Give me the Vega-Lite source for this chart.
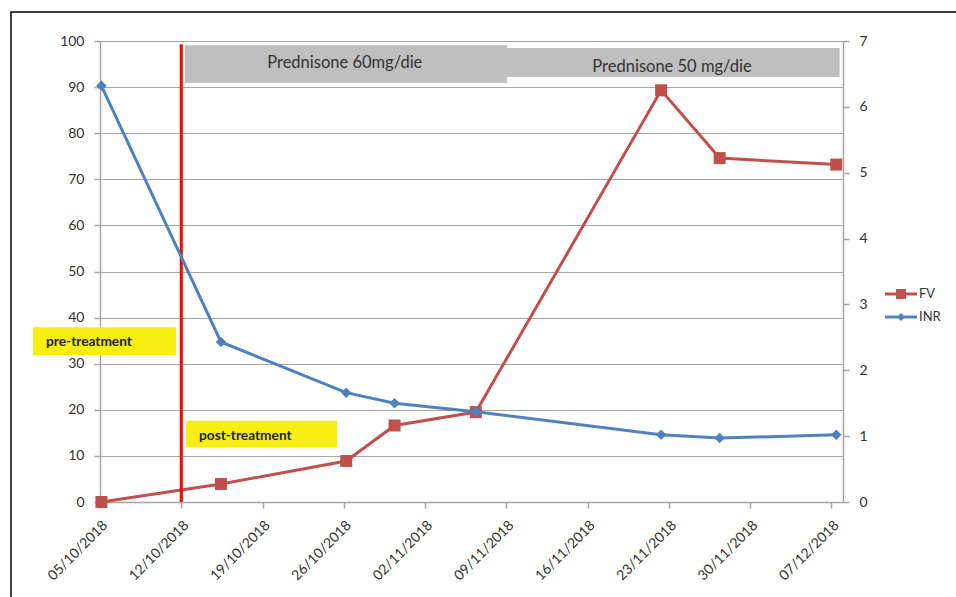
{
  "$schema": "https://vega.github.io/schema/vega-lite/v6.json",
  "width": 743,
  "height": 461,
  "autosize": {"type": "none"},
  "padding": {"left": 100, "top": 41, "right": 113, "bottom": 95},
  "background": "white",
  "config": {
    "view": {"stroke": null},
    "font": "Lato",
    "axis": {"labelFont": "Lato", "labelFontSize": 14, "labelColor": "#333333", "domainColor": "#A6A6A6", "tickColor": "#A6A6A6", "gridColor": "#A6A6A6", "domainWidth": 1.5, "tickWidth": 1.5}
  },
  "datasets": {
    "series": [
      {"date": "2018-10-05T03:00", "FV": 0, "INR": 6.32},
      {"date": "2018-10-15T10:00", "FV": 3.9, "INR": 2.43},
      {"date": "2018-10-26T05:00", "FV": 8.9, "INR": 1.66},
      {"date": "2018-10-30T09:00", "FV": 16.6, "INR": 1.5},
      {"date": "2018-11-06T09:00", "FV": 19.5, "INR": 1.37},
      {"date": "2018-11-22T08:00", "FV": 89.3, "INR": 1.02},
      {"date": "2018-11-27T09:00", "FV": 74.6, "INR": 0.97},
      {"date": "2018-12-07T10:00", "FV": 73.2, "INR": 1.02}
    ],
    "frame": [{"x": "2018-09-27T08:00", "x2": "2018-12-30T00:00", "y": 106.3, "y2": -30}],
    "grey": [
      {"x": "2018-11-08T17:00", "x2": "2018-12-07T17:00", "y": 98.5, "y2": 92.2},
      {"x": "2018-10-12T07:40", "x2": "2018-11-09T01:30", "y": 99.1, "y2": 90.9}
    ],
    "greyText": [
      {"x": "2018-10-26T02:00", "y": 95.2, "text": "Prednisone 60mg/die"},
      {"x": "2018-11-23T06:30", "y": 94.4, "text": "Prednisone 50 mg/die"}
    ],
    "yellow": [
      {"x": "2018-09-29T05:30", "x2": "2018-10-11T13:00", "y": 37.9, "y2": 31.9},
      {"x": "2018-10-12T10:00", "x2": "2018-10-25T10:00", "y": 17.6, "y2": 11.9}
    ],
    "yellowText": [
      {"x": "2018-09-30T08:30", "y": 34.7, "text": "pre-treatment"},
      {"x": "2018-10-13T12:40", "y": 14.3, "text": "post-treatment"}
    ],
    "start": [{"x": "2018-10-12T00:00", "y": 0, "y2": 99.3}],
    "legend": [{"s": "FV"}, {"s": "INR"}]
  },
  "layer": [
    {
      "layer": [
        {
          "data": {"name": "frame"},
          "mark": {"type": "rect", "filled": false, "stroke": "#000000", "strokeWidth": 1.5, "clip": false},
          "encoding": {
            "x": {
              "field": "x", "type": "temporal",
              "scale": {"domain": [{"year": 2018, "month": 10, "date": 5}, {"year": 2018, "month": 12, "date": 8}]},
              "axis": {
                "title": null,
                "values": [
                  {"year": 2018, "month": 10, "date": 5}, {"year": 2018, "month": 10, "date": 12},
                  {"year": 2018, "month": 10, "date": 19}, {"year": 2018, "month": 10, "date": 26},
                  {"year": 2018, "month": 11, "date": 2}, {"year": 2018, "month": 11, "date": 9},
                  {"year": 2018, "month": 11, "date": 16}, {"year": 2018, "month": 11, "date": 23},
                  {"year": 2018, "month": 11, "date": 30}, {"year": 2018, "month": 12, "date": 7}
                ],
                "format": "%d/%m/%Y", "labelAngle": -45, "tickSize": 6, "grid": false, "labelPadding": 10
              }
            },
            "x2": {"field": "x2"},
            "y": {
              "field": "y", "type": "quantitative",
              "scale": {"domain": [0, 100], "nice": false},
              "axis": {"title": null, "orient": "left", "values": [0, 10, 20, 30, 40, 50, 60, 70, 80, 90, 100], "grid": true, "gridWidth": 1.2, "tickSize": 6, "labelPadding": 10}
            },
            "y2": {"field": "y2"}
          }
        },
        {
          "data": {"name": "grey"},
          "mark": {"type": "rect", "color": "#BFBFBF"},
          "encoding": {
            "x": {"field": "x", "type": "temporal"},
            "x2": {"field": "x2"},
            "y": {"field": "y", "type": "quantitative"},
            "y2": {"field": "y2"}
          }
        },
        {
          "data": {"name": "greyText"},
          "mark": {"type": "text", "fontSize": 16.5, "color": "#333333", "align": "center", "baseline": "middle"},
          "encoding": {
            "x": {"field": "x", "type": "temporal"},
            "y": {"field": "y", "type": "quantitative"},
            "text": {"field": "text"}
          }
        },
        {
          "data": {"name": "yellow"},
          "mark": {"type": "rect", "color": "#F7EE10", "clip": false},
          "encoding": {
            "x": {"field": "x", "type": "temporal"},
            "x2": {"field": "x2"},
            "y": {"field": "y", "type": "quantitative"},
            "y2": {"field": "y2"}
          }
        },
        {
          "data": {"name": "yellowText"},
          "mark": {"type": "text", "fontSize": 13.7, "fontWeight": "bold", "color": "#222222", "align": "left", "baseline": "middle"},
          "encoding": {
            "x": {"field": "x", "type": "temporal"},
            "y": {"field": "y", "type": "quantitative"},
            "text": {"field": "text"}
          }
        },
        {
          "data": {"name": "series"},
          "mark": {"type": "line", "color": "#C0504D", "strokeWidth": 3},
          "encoding": {
            "x": {"field": "date", "type": "temporal"},
            "y": {"field": "FV", "type": "quantitative"}
          }
        },
        {
          "data": {"name": "series"},
          "mark": {"type": "point", "shape": "square", "filled": true, "size": 144, "color": "#C0504D", "opacity": 1},
          "encoding": {
            "x": {"field": "date", "type": "temporal"},
            "y": {"field": "FV", "type": "quantitative"}
          }
        },
        {
          "data": {"name": "start"},
          "mark": {"type": "rule", "color": "#FF0000", "strokeWidth": 3},
          "encoding": {
            "x": {"field": "x", "type": "temporal"},
            "y": {"field": "y", "type": "quantitative"},
            "y2": {"field": "y2"}
          }
        },
        {
          "data": {"name": "legend"},
          "mark": {"type": "point", "filled": true, "opacity": 0},
          "encoding": {
            "color": {
              "field": "s", "type": "nominal",
              "scale": {"domain": ["FV", "INR"], "range": ["#C0504D", "#4F81BD"]},
              "legend": {
                "title": null, "orient": "none", "legendX": 785, "legendY": 237,
                "padding": 0, "rowPadding": 0, "symbolSize": 1024, "symbolStrokeWidth": 0,
                "labelFontSize": 13, "labelColor": "#333333", "labelOffset": 2, "labelFont": "Lato",
                "encode": {"symbols": {"update": {"opacity": {"value": 1}}}}
              }
            },
            "shape": {
              "field": "s", "type": "nominal",
              "scale": {"domain": ["FV", "INR"], "range": [
                "M-1,-0.09H-0.31V-0.31H0.31V-0.09H1V0.09H0.31V0.31H-0.31V0.09H-1Z",
                "M-1,-0.09H-0.16L0,-0.25L0.16,-0.09H1V0.09H0.16L0,0.25L-0.16,0.09H-1Z"
              ]}
            }
          }
        }
      ]
    },
    {
      "layer": [
        {
          "data": {"name": "series"},
          "mark": {"type": "line", "color": "#4F81BD", "strokeWidth": 3},
          "encoding": {
            "x": {"field": "date", "type": "temporal"},
            "y": {
              "field": "INR", "type": "quantitative",
              "scale": {"domain": [0, 7], "nice": false},
              "axis": {"title": null, "orient": "right", "values": [0, 1, 2, 3, 4, 5, 6, 7], "format": "d", "grid": false, "tickSize": 6, "labelPadding": 10}
            }
          }
        },
        {
          "data": {"name": "series"},
          "mark": {"type": "point", "shape": "diamond", "filled": true, "size": 110, "color": "#4F81BD", "opacity": 1},
          "encoding": {
            "x": {"field": "date", "type": "temporal"},
            "y": {"field": "INR", "type": "quantitative"}
          }
        }
      ]
    }
  ],
  "resolve": {"scale": {"y": "independent"}}
}
